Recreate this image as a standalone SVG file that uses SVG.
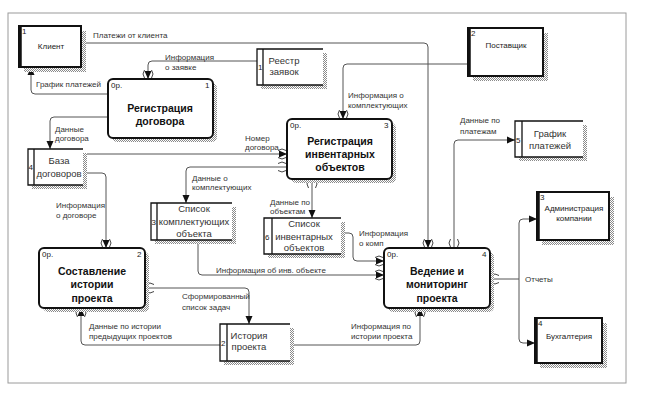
<svg xmlns="http://www.w3.org/2000/svg" width="649" height="395" viewBox="0 0 649 395">
<defs>
<pattern id="hatch" width="2" height="2" patternUnits="userSpaceOnUse">
<rect width="2" height="2" fill="#ffffff"/>
<rect width="1" height="1" fill="#8a8a8a"/>
<rect x="1" y="1" width="1" height="1" fill="#8a8a8a"/>
</pattern>
<marker id="arr" viewBox="0 0 8 8" refX="8" refY="4" markerWidth="8" markerHeight="8" markerUnits="userSpaceOnUse" orient="auto">
<path d="M0,0.5 L8,4 L0,7.5 Z" fill="#111"/>
</marker>
<g id="tun">
<path d="M-3.5,-9 Q-6.5,-5 -3.5,-1" fill="none" stroke="#444" stroke-width="1"/>
<path d="M3.5,-9 Q6.5,-5 3.5,-1" fill="none" stroke="#444" stroke-width="1"/>
</g>
</defs>
<style>
.frame{fill:#fff;stroke:#9a9a9a;stroke-width:1}
.sh{fill:url(#hatch)}
.ext{fill:#fff;stroke:#111;stroke-width:2}
.extl{stroke:#111;stroke-width:3.5}
.proc{fill:#fff;stroke:#111;stroke-width:2}
.ds{fill:#fff;stroke:none}
.dsl{fill:none;stroke:#111;stroke-width:1.3}
.c{fill:none;stroke:#555;stroke-width:1}
.ca{fill:none;stroke:#555;stroke-width:1;marker-end:url(#arr)}
text{font-family:"Liberation Sans",Arial,sans-serif;fill:#333}
.lbl{font-size:8px}
.num{font-size:8px;fill:#222}
.et{font-size:8px;text-anchor:middle;fill:#222}
.pt{font-size:10.5px;font-weight:bold;text-anchor:middle;fill:#111}
.dt{font-size:9.5px;text-anchor:middle}
</style>
<rect class="frame" x="8" y="13" width="618" height="370"/>

<g id="connectors">
<path class="ca" d="M81,43 H424 Q428,43 428,47 V248"/>
<path class="ca" d="M257,61 H152 Q148,61 148,65 V79"/>
<path class="ca" d="M108,94 H35 Q31,94 31,90 V67"/>
<path class="ca" d="M108,117 H54 Q50,117 50,121 V149"/>
<path class="ca" d="M83,154 H287"/>
<path class="ca" d="M287,167 H190 Q186,167 186,171 V203"/>
<path class="ca" d="M468,64 H347 Q343,64 343,68 V119"/>
<path class="ca" d="M312,179 V218"/>
<path class="ca" d="M83,173 H102 Q106,173 106,177 V248"/>
<path class="ca" d="M198,240 V271 Q198,275 202,275 H384"/>
<path class="ca" d="M341,233 H349 Q353,233 353,237 V257 Q353,261 357,261 H384"/>
<path class="ca" d="M454,248 V144 Q454,140 458,140 H515"/>
<path class="c" d="M490,279 H519"/>
<path class="ca" d="M519,279 V223 Q519,219 523,219 H537"/>
<path class="ca" d="M519,279 V339 Q519,343 523,343 H535"/>
<path class="ca" d="M145,288 H245 Q249,288 249,292 V324"/>
<path class="ca" d="M220,345 H85 Q81,345 81,341 V308"/>
<path class="ca" d="M290,345 H416 Q420,345 420,341 V308"/>
<!-- tunnel marks -->
<use href="#tun" transform="translate(148,79)"/>
<use href="#tun" transform="translate(108,94) rotate(90)"/>
<use href="#tun" transform="translate(108,117) rotate(90)"/>
<use href="#tun" transform="translate(287,154) rotate(-90)"/>
<use href="#tun" transform="translate(287,167) rotate(-90)"/>
<use href="#tun" transform="translate(343,119)"/>
<use href="#tun" transform="translate(312,179) rotate(180)"/>
<use href="#tun" transform="translate(106,248)"/>
<use href="#tun" transform="translate(145,288) rotate(90)"/>
<use href="#tun" transform="translate(81,308) rotate(180)"/>
<use href="#tun" transform="translate(428,248)"/>
<use href="#tun" transform="translate(454,248)"/>
<use href="#tun" transform="translate(384,261) rotate(-90)"/>
<use href="#tun" transform="translate(384,275) rotate(-90)"/>
<use href="#tun" transform="translate(490,279) rotate(90)"/>
<use href="#tun" transform="translate(420,308) rotate(180)"/>
<!-- labels -->
<text class="lbl" x="93" y="38">Платежи от клиента</text>
<text class="lbl" x="165" y="60">Информация</text>
<text class="lbl" x="165" y="70">о заявке</text>
<text class="lbl" x="36" y="87">График платежей</text>
<text class="lbl" x="55" y="132">Данные</text>
<text class="lbl" x="55" y="141">договора</text>
<text class="lbl" x="245" y="141">Номер</text>
<text class="lbl" x="245" y="150">договора</text>
<text class="lbl" x="192" y="181">Данные о</text>
<text class="lbl" x="192" y="190">комплектующих</text>
<text class="lbl" x="348" y="98">Информация о</text>
<text class="lbl" x="348" y="108">комплектующих</text>
<text class="lbl" x="270" y="205">Данные по</text>
<text class="lbl" x="270" y="214">объектам</text>
<text class="lbl" x="56" y="208">Информация</text>
<text class="lbl" x="56" y="218">о договоре</text>
<text class="lbl" x="216" y="273">Информация об инв. объекте</text>
<text class="lbl" x="359" y="236">Информация</text>
<text class="lbl" x="359" y="246">о комп</text>
<text class="lbl" x="460" y="123">Данные по</text>
<text class="lbl" x="460" y="134">платежам</text>
<text class="lbl" x="525" y="282">Отчеты</text>
<text class="lbl" x="182" y="299">Сформированный</text>
<text class="lbl" x="182" y="310">список задач</text>
<text class="lbl" x="89" y="329">Данные по истории</text>
<text class="lbl" x="89" y="339">предыдущих проектов</text>
<text class="lbl" x="351" y="329">Информация по</text>
<text class="lbl" x="351" y="339">истории проекта</text>
</g>

<!-- external entities -->
<g id="ext-client">
<rect class="sh" x="24" y="31" width="62" height="41"/>
<rect class="ext" x="19" y="26" width="62" height="41"/>
<line class="extl" x1="20" y1="25" x2="20" y2="68"/>
<text class="num" x="22" y="34">1</text>
<text class="et" x="51" y="49">Клиент</text>
</g>
<g id="ext-supplier">
<rect class="sh" x="473" y="33" width="75" height="48"/>
<rect class="ext" x="468" y="28" width="75" height="48"/>
<line class="extl" x1="469" y1="27" x2="469" y2="77"/>
<text class="num" x="471" y="36">2</text>
<text class="et" x="506" y="48">Поставщик</text>
</g>
<g id="ext-admin">
<rect class="sh" x="542" y="197" width="72" height="48"/>
<rect class="ext" x="537" y="192" width="72" height="48"/>
<line class="extl" x1="538" y1="191" x2="538" y2="241"/>
<text class="num" x="540" y="200">3</text>
<text class="et" x="574" y="211">Администрация</text>
<text class="et" x="574" y="221">компании</text>
</g>
<g id="ext-account">
<rect class="sh" x="540" y="323" width="67" height="45"/>
<rect class="ext" x="535" y="318" width="67" height="45"/>
<line class="extl" x1="536" y1="317" x2="536" y2="364"/>
<text class="num" x="538" y="326">4</text>
<text class="et" x="569" y="339">Бухгалтерия</text>
</g>

<!-- processes -->
<g id="proc-1">
<rect class="sh" x="112" y="83" width="105" height="59" rx="5"/>
<rect class="proc" x="108" y="79" width="105" height="59" rx="5"/>
<text class="num" x="111" y="88">0р.</text>
<text class="num" x="205" y="88">1</text>
<text class="pt" x="160" y="112">Регистрация</text>
<text class="pt" x="160" y="125">договора</text>
</g>
<g id="proc-3">
<rect class="sh" x="291" y="123" width="105" height="60" rx="5"/>
<rect class="proc" x="287" y="119" width="105" height="60" rx="5"/>
<text class="num" x="290" y="128">0р.</text>
<text class="num" x="384" y="128">3</text>
<text class="pt" x="340" y="145">Регистрация</text>
<text class="pt" x="340" y="158">инвентарных</text>
<text class="pt" x="340" y="171">объектов</text>
</g>
<g id="proc-2">
<rect class="sh" x="43" y="252" width="106" height="60" rx="5"/>
<rect class="proc" x="39" y="248" width="106" height="60" rx="5"/>
<text class="num" x="42" y="257">0р.</text>
<text class="num" x="137" y="257">2</text>
<text class="pt" x="92" y="275">Составление</text>
<text class="pt" x="92" y="288">истории</text>
<text class="pt" x="92" y="302">проекта</text>
</g>
<g id="proc-4">
<rect class="sh" x="388" y="252" width="106" height="60" rx="5"/>
<rect class="proc" x="384" y="248" width="106" height="60" rx="5"/>
<text class="num" x="387" y="257">0р.</text>
<text class="num" x="482" y="257">4</text>
<text class="pt" x="437" y="275">Ведение и</text>
<text class="pt" x="437" y="288">мониторинг</text>
<text class="pt" x="437" y="302">проекта</text>
</g>

<!-- data stores -->
<g id="ds-1">
<rect class="sh" x="261" y="53" width="66" height="36"/>
<rect class="ds" x="257" y="49" width="66" height="36"/>
<path class="dsl" d="M323,49 H257 V85 H323 M263,49 V85"/>
<text class="num" x="258" y="70">1</text>
<text class="dt" x="284" y="64">Реестр</text>
<text class="dt" x="284" y="75">заявок</text>
</g>
<g id="ds-4">
<rect class="sh" x="32" y="153" width="55" height="36"/>
<rect class="ds" x="28" y="149" width="55" height="36"/>
<path class="dsl" d="M83,149 H28 V185 H83 M34,149 V185"/>
<text class="num" x="28.5" y="170">4</text>
<text class="dt" x="59" y="164">База</text>
<text class="dt" x="59" y="177">договоров</text>
</g>
<g id="ds-5">
<rect class="sh" x="519" y="125" width="68" height="36"/>
<rect class="ds" x="515" y="121" width="68" height="36"/>
<path class="dsl" d="M583,121 H515 V157 H583 M522,121 V157"/>
<text class="num" x="516" y="143">5</text>
<text class="dt" x="550" y="137">График</text>
<text class="dt" x="550" y="149">платежей</text>
</g>
<g id="ds-3">
<rect class="sh" x="155" y="207" width="81" height="37"/>
<rect class="ds" x="151" y="203" width="81" height="37"/>
<path class="dsl" d="M232,203 H151 V240 H232 M157,203 V240"/>
<text class="num" x="151.5" y="225">3</text>
<text class="dt" x="194" y="212">Список</text>
<text class="dt" x="194" y="225">комплектующих</text>
<text class="dt" x="194" y="237">объекта</text>
</g>
<g id="ds-6">
<rect class="sh" x="268" y="222" width="77" height="36"/>
<rect class="ds" x="264" y="218" width="77" height="36"/>
<path class="dsl" d="M341,218 H264 V254 H341 M272,218 V254"/>
<text class="num" x="265" y="240">6</text>
<text class="dt" x="304" y="227">Список</text>
<text class="dt" x="304" y="240">инвентарных</text>
<text class="dt" x="304" y="251">объектов</text>
</g>
<g id="ds-2">
<rect class="sh" x="224" y="328" width="70" height="37"/>
<rect class="ds" x="220" y="324" width="70" height="37"/>
<path class="dsl" d="M290,324 H220 V361 H290 M227,324 V361"/>
<text class="num" x="221" y="346">2</text>
<text class="dt" x="249" y="339">История</text>
<text class="dt" x="249" y="350">проекта</text>
</g>
</svg>
